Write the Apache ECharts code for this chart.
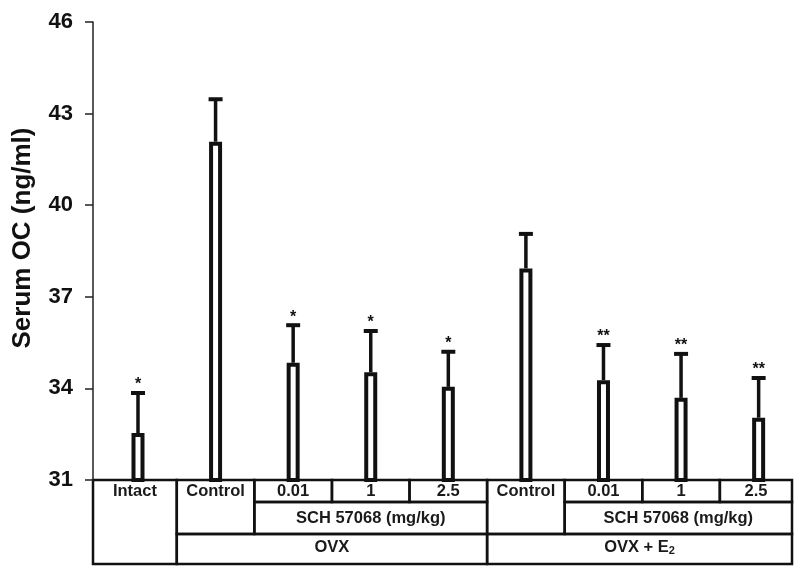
<!DOCTYPE html>
<html>
<head>
<meta charset="utf-8">
<title>Serum OC</title>
<script src="https://cdn.jsdelivr.net/npm/echarts@6/dist/echarts.min.js"></script>
<style>
  html, body { margin: 0; padding: 0; background: #fff; }
  #main { width: 800px; height: 573px; }
</style>
</head>
<body>
<div id="main"></div>
<script>
// bar groups, left to right
var groups = ['Intact', 'Control', '0.01', '1', '2.5', 'Control', '0.01', '1', '2.5'];
var means  = [32.54, 42.08, 34.84, 34.53, 34.05, 37.93, 34.27, 33.69, 33.04];
var upper  = [33.85, 43.47, 36.07, 35.88, 35.20, 39.06, 35.42, 35.13, 34.34];
var marks  = ['*', '', '*', '*', '*', '', '**', '**', '**'];

var yMin = 31, yMax = 46, yStep = 3;
var xMin = -0.58, xMax = 8.43;

// lower table rows: [text, firstCol, lastCol, firstRow, lastRow]
var headRow = groups.map(function (g, i) { return [g, i, i, 0, (g === 'Intact' ? 2 : (g === 'Control' ? 1 : 0))]; });
var doseRow = [
  ['SCH 57068 (mg/kg)', 2, 4, 1, 1],
  ['SCH 57068 (mg/kg)', 6, 8, 1, 1]
];
var modelRow = [
  ['OVX', 1, 4, 2, 2],
  ['OVX + E{sub|2}', 5, 8, 2, 2]
];

var FONT = 'Liberation Sans, Arial, Helvetica, sans-serif';
var INK = '#111';

var chart = echarts.init(document.getElementById('main'));

chart.setOption({
  animation: false,
  backgroundColor: '#fff',
  grid: { left: 93, right: 8, top: 22, bottom: 93 },
  xAxis: {
    type: 'value',
    min: xMin,
    max: xMax,
    show: false
  },
  yAxis: {
    type: 'value',
    min: yMin,
    max: yMax,
    interval: yStep,
    name: 'Serum OC (ng/ml)',
    nameLocation: 'middle',
    nameGap: 57,
    nameTextStyle: {
      fontFamily: FONT, fontWeight: 'bold', fontSize: 26, color: INK,
      padding: [0, 0, 0, 26]
    },
    axisLine: { show: true, onZero: false, lineStyle: { color: '#222', width: 1.5 } },
    axisTick: { show: true, length: 8, lineStyle: { color: '#222', width: 1.5 } },
    axisLabel: { margin: 20, fontFamily: FONT, fontWeight: 'bold', fontSize: 22, color: INK },
    splitLine: { show: false }
  },
  series: [
    {
      type: 'bar',
      silent: true,
      barWidth: 13,
      itemStyle: { color: '#fff', borderColor: INK, borderWidth: 4 },
      data: means.map(function (v, i) { return [i, v]; })
    },
    {
      // error bars + significance marks
      type: 'custom',
      silent: true,
      data: means.map(function (v, i) { return [i, v, upper[i]]; }),
      renderItem: function (params, api) {
        var base = api.coord([api.value(0), api.value(1)]);
        var top = api.coord([api.value(0), api.value(2)]);
        var kids = [
          { type: 'line', shape: { x1: top[0], y1: base[1], x2: top[0], y2: top[1] },
            style: { stroke: INK, lineWidth: 3.5 } },
          { type: 'line', shape: { x1: top[0] - 7, y1: top[1], x2: top[0] + 7, y2: top[1] },
            style: { stroke: INK, lineWidth: 4 } }
        ];
        var m = marks[params.dataIndex];
        if (m) {
          kids.push({
            type: 'text', x: top[0], y: top[1],
            style: { text: m, align: 'center', verticalAlign: 'bottom',
              fontFamily: FONT, fontWeight: 'bold', fontSize: 16, fill: INK }
          });
        }
        return { type: 'group', children: kids };
      }
    }
  ]
});

// table under the bars, aligned with the x scale
function drawTable() {
  var yTop = chart.convertToPixel({ yAxisIndex: 0 }, yMin);
  var rows = [yTop, yTop + 22, yTop + 54, yTop + 84];
  var last = groups.length - 1;
  function px(v) { return chart.convertToPixel({ xAxisIndex: 0 }, v); }
  function left(c) { return px(c === 0 ? xMin : c - 0.5); }
  function right(c) { return px(c === last ? xMax : c + 0.5); }

  var els = [];
  headRow.concat(doseRow, modelRow).forEach(function (cell) {
    var x0 = left(cell[1]), x1 = right(cell[2]);
    var y0 = rows[cell[3]], y1 = rows[cell[4] + 1];
    els.push({
      type: 'rect', silent: true,
      shape: { x: x0, y: y0, width: x1 - x0, height: y1 - y0 },
      style: { fill: 'transparent', stroke: INK, lineWidth: 2.5 }
    });
    els.push({
      type: 'text', silent: true,
      x: (x0 + x1) / 2,
      y: (rows[cell[3]] + rows[cell[3] + 1]) / 2 - (cell[3] === 2 ? 2 : 0),
      style: {
        text: cell[0], align: 'center', verticalAlign: 'middle',
        fontFamily: FONT, fontWeight: 'bold', fontSize: 16.5, fill: '#1a1a1a',
        lineHeight: 18,
        rich: { sub: { fontFamily: FONT, fontWeight: 'bold', fontSize: 11, lineHeight: 11, verticalAlign: 'bottom', fill: '#1a1a1a' } }
      }
    });
  });
  chart.setOption({ graphic: els });
}
drawTable();
</script>
</body>
</html>
